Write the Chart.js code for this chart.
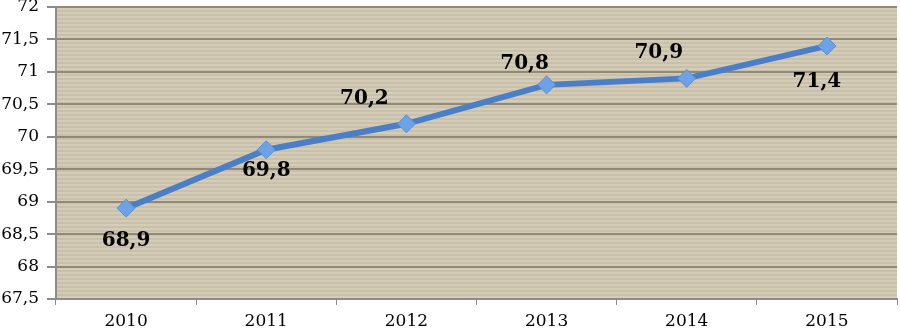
<!DOCTYPE html>
<html>
<head>
<meta charset="utf-8">
<script src="https://cdn.jsdelivr.net/npm/chart.js@4/dist/chart.umd.min.js"></script>
<style>
  html, body { margin: 0; padding: 0; background: #fff; }
  #wrap { width: 900px; height: 332px; }
</style>
</head>
<body>
<div id="wrap"><canvas id="chart"></canvas></div>
<script>
const years = ["2010", "2011", "2012", "2013", "2014", "2015"];
const values = [68.9, 69.8, 70.2, 70.8, 70.9, 71.4];
const valueLabels = ["68,9", "69,8", "70,2", "70,8", "70,9", "71,4"];

// where each value label sits relative to its point (px), as placed in the original
const labelShift = [[0, 33], [0, 21], [-42, -25], [-22, -21], [-28, -26], [-10, 36]];

// striped plot background
function stripePattern(ctx) {
  const c = document.createElement("canvas");
  c.width = 4; c.height = 4;
  const g = c.getContext("2d");
  g.fillStyle = "#d4ccb7"; g.fillRect(0, 0, 4, 2);
  g.fillStyle = "#c8c0aa"; g.fillRect(0, 2, 4, 2);
  return ctx.createPattern(c, "repeat");
}

const backgroundPlugin = {
  id: "plotBg",
  beforeDraw(chart) {
    const { ctx, chartArea: a } = chart;
    ctx.save();
    ctx.fillStyle = stripePattern(ctx);
    ctx.fillRect(a.left, a.top, a.right - a.left, a.bottom - a.top);
    ctx.restore();
  }
};

const labelPlugin = {
  id: "valueLabels",
  afterDatasetsDraw(chart) {
    const { ctx } = chart;
    const pts = chart.getDatasetMeta(0).data;
    ctx.save();
    ctx.font = "bold 20px 'DejaVu Serif'";
    ctx.fillStyle = "#000";
    ctx.textAlign = "center";
    ctx.textBaseline = "middle";
    pts.forEach((p, i) => {
      ctx.fillText(valueLabels[i], p.x + labelShift[i][0], p.y + labelShift[i][1]);
    });
    ctx.restore();
  }
};

new Chart(document.getElementById("chart"), {
  type: "line",
  data: {
    labels: years,
    datasets: [{
      data: values,
      borderColor: "#4a7ec6",
      borderWidth: 6,
      tension: 0,
      pointStyle: "rectRot",
      pointRadius: 9,
      pointHoverRadius: 9,
      pointBackgroundColor: "#6ea2e6",
      pointBorderColor: "#5b8fd6",
      pointBorderWidth: 1
    }]
  },
  options: {
    responsive: true,
    maintainAspectRatio: false,
    animation: false,
    layout: { autoPadding: false, padding: { top: 7, right: 3, left: 0, bottom: 0 } },
    plugins: { legend: { display: false }, tooltip: { enabled: false } },
    scales: {
      x: {
        offset: true,
        grid: { drawOnChartArea: false, color: "#8c8c8c", tickLength: 6, offset: true },
        border: { color: "#8c8c8c", width: 2 },
        ticks: { color: "#000", font: { family: "'DejaVu Serif'", size: 17 }, padding: 6 },
        afterFit(s) { s.height = 33; s.paddingLeft = 0; s.paddingRight = 0; }
      },
      y: {
        min: 67.5,
        max: 72,
        ticks: {
          stepSize: 0.5,
          color: "#000",
          font: { family: "'DejaVu Serif'", size: 17 },
          padding: 8,
          callback: v => String(v).replace(".", ",")
        },
        grid: { color: "#8f8975", lineWidth: 2, tickLength: 9, tickColor: "#8c8c8c" },
        border: { color: "#8c8c8c", width: 2 },
        afterFit(s) { s.width = 56; s.paddingTop = 0; s.paddingBottom = 0; }
      }
    }
  },
  plugins: [backgroundPlugin, labelPlugin]
});
</script>
</body>
</html>
